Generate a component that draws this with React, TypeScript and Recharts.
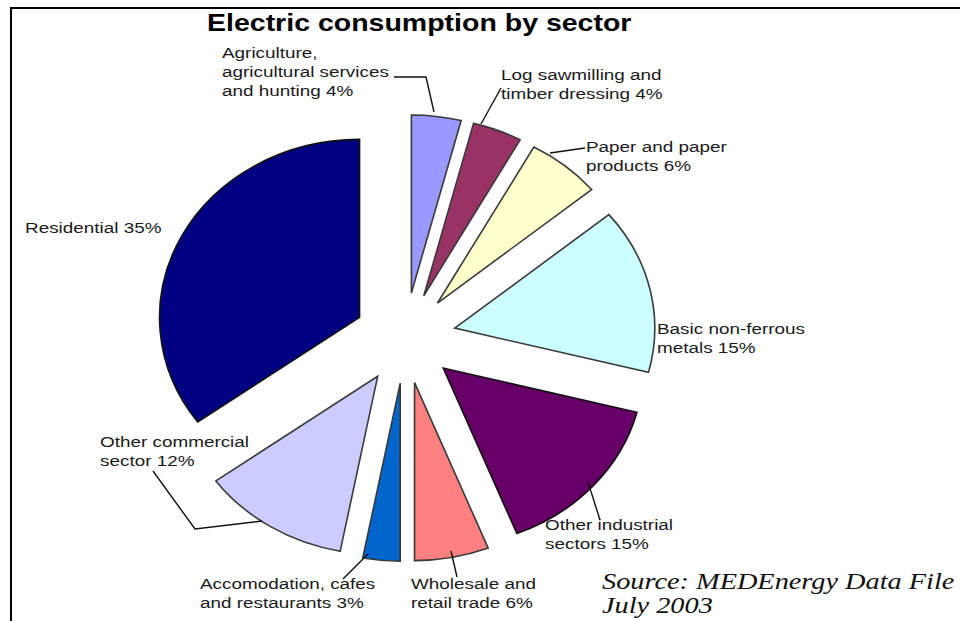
import React from 'react';
import { PieChart, Pie, Sector } from 'recharts';

// shares in %, clockwise from 12 o'clock
const sectors = [
  'Agriculture, agricultural services and hunting',
  'Log sawmilling and timber dressing',
  'Paper and paper products',
  'Basic non-ferrous metals',
  'Other industrial sectors',
  'Wholesale and retail trade',
  'Accomodation, cafes and restaurants',
  'Other commercial sector',
  'Residential',
];
const shares = [4, 4, 6, 15, 15, 6, 3, 12, 35];
const labelLines = [
  ['Agriculture,', 'agricultural services', 'and hunting 4%'],
  ['Log sawmilling and', 'timber dressing 4%'],
  ['Paper and paper', 'products 6%'],
  ['Basic non-ferrous', 'metals 15%'],
  ['Other industrial', 'sectors 15%'],
  ['Wholesale and', 'retail trade 6%'],
  ['Accomodation, cafes', 'and restaurants 3%'],
  ['Other commercial', 'sector 12%'],
  ['Residential 35%'],
];
const colors = ['#9999ff', '#993366', '#ffffcc', '#ccffff', '#660066', '#ff8080', '#0066cc', '#ccccff', '#000080'];

// label placement (first-line baseline) and leader polylines
const labelLayout: { x: number; y: number; leader?: number[][] }[] = [
  { x: 222, y: 58, leader: [[394, 77], [426, 77], [434, 112]] },
  { x: 501, y: 80, leader: [[501, 88], [481, 124]] },
  { x: 586, y: 152, leader: [[550, 153], [585, 148]] },
  { x: 657, y: 334 },
  { x: 545, y: 530, leader: [[588, 482], [600, 520]] },
  { x: 411, y: 589, leader: [[451, 551], [457, 577]] },
  { x: 200, y: 589, leader: [[368, 554], [343, 579]] },
  { x: 100, y: 447, leader: [[153, 471], [195, 529], [262, 521]] },
  { x: 25, y: 233 },
];

const data = sectors.map((name, i) => ({ name, value: shares[i] }));

const EXPLODE = 51;
const SQUASH = 0.89;
const TEXT_SX = 1.26;
const RAD = Math.PI / 180;

const renderSlice = (props: any) => {
  const { cx, cy, midAngle, innerRadius, outerRadius, startAngle, endAngle, index } = props;
  const dx = EXPLODE * Math.cos(-midAngle * RAD);
  const dy = EXPLODE * Math.sin(-midAngle * RAD);
  const lay = labelLayout[index];
  const dark = index === 4 || index === 8;
  return (
    <g key={`slice-${index}`}>
      <g transform={`translate(0 ${cy * (1 - SQUASH)}) scale(1 ${SQUASH})`}>
        <Sector
          cx={cx + dx}
          cy={cy + dy}
          innerRadius={innerRadius}
          outerRadius={outerRadius}
          startAngle={startAngle}
          endAngle={endAngle}
          fill={colors[index]}
          stroke={dark ? '#111' : '#3a3a3a'}
          strokeWidth={1.6}
          vectorEffect="non-scaling-stroke"
        />
      </g>
      {lay.leader && (
        <polyline
          points={lay.leader.map((p) => p.join(',')).join(' ')}
          fill="none"
          stroke="#111"
          strokeWidth={1.4}
        />
      )}
      {labelLines[index].map((line, j) => (
        <text
          key={j}
          transform={`translate(${lay.x} ${lay.y + j * 19}) scale(${TEXT_SX} 1)`}
          fontFamily="'Liberation Sans', Arial, sans-serif"
          fontSize={15}
          fill="#1a1a1a"
        >
          {line}
        </text>
      ))}
    </g>
  );
};

export default function App() {
  return (
    <div style={{ position: 'fixed', left: 0, top: 0, width: 960, height: 621, overflow: 'hidden', background: '#fff' }}>
      <div
        style={{
          position: 'absolute',
          left: 10,
          top: 7,
          width: 960,
          height: 630,
          borderTop: '2px solid #000',
          borderLeft: '2px solid #000',
        }}
      />
      <div style={{ position: 'absolute', left: 0, top: 0 }}>
        <PieChart width={960} height={621}>
          <text
            transform={`translate(207 31) scale(1.24 1)`}
            fontFamily="'Liberation Sans', Arial, sans-serif"
            fontWeight="bold"
            fontSize={23}
            fill="#000"
          >
            Electric consumption by sector
          </text>
          <Pie
            data={data}
            dataKey="value"
            nameKey="name"
            cx={400}
            cy={333}
            innerRadius={0}
            outerRadius={200}
            startAngle={90}
            endAngle={-270}
            fill="none"
            stroke="none"
            label={renderSlice}
            labelLine={false}
            isAnimationActive={false}
          />
          <text
            transform={`translate(602 589) scale(1.18 1)`}
            fontFamily="'Liberation Serif', 'Times New Roman', serif"
            fontStyle="italic"
            fontSize={24}
            fill="#111"
          >
            Source: MEDEnergy Data File
          </text>
          <text
            transform={`translate(602 613) scale(1.18 1)`}
            fontFamily="'Liberation Serif', 'Times New Roman', serif"
            fontStyle="italic"
            fontSize={24}
            fill="#111"
          >
            July 2003
          </text>
        </PieChart>
      </div>
    </div>
  );
}
